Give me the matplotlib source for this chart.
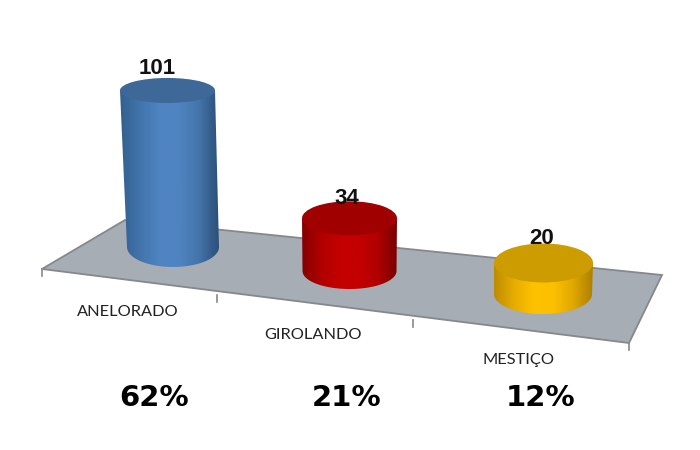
import matplotlib
matplotlib.use("Agg")
import matplotlib.pyplot as plt
import numpy as np
from matplotlib.colors import LinearSegmentedColormap
from matplotlib.patches import Polygon, PathPatch, Ellipse
from matplotlib.path import Path

categories = ["ANELORADO", "GIROLANDO", "MESTIÇO"]
values = [101, 34, 20]
percents = ["62%", "21%", "12%"]

# layout is in image pixels, the cylinder height comes from the value
px_per_unit = 1.55
base_x = [173, 349.5, 543]
base_y = [247, 271, 294]
top_x = [167.5, 349.5, 543.5]
half_w_base = [46, 47, 49]
half_w_top = [47.5, 47.5, 49.5]
half_h_base = [20, 18, 20]
half_h_top = [12.5, 17, 19.5]
side_colors = [["#32608f", "#4274ac", "#4f84c2", "#4f84c2", "#4474aa", "#2c4f78"],
               ["#860000", "#b00000", "#c40000", "#c40000", "#b00000", "#7a0000"],
               ["#bd8c00", "#e6ac00", "#ffc200", "#fdc000", "#e0a800", "#ad8000"]]
top_colors = ["#3d6898", "#a00000", "#cc9c00"]
label_x = [128, 313, 518]
label_y = [312, 335, 360]
percent_x = [154, 347, 541]
value_x = [157, 347, 542]
value_y = [68, 198, 238]
floor = [(42, 269), (125, 220), (662, 275), (629, 343)]
floor_ticks = [(42, 269), (217, 295), (413, 320), (629, 343)]

fig = plt.figure(figsize=(7, 4.5), dpi=100)
ax = fig.add_axes([0, 0, 1, 1])

ax.add_patch(Polygon(floor, closed=True, facecolor="#a6adb5", edgecolor="#85888c", linewidth=1.3, zorder=1))
for tx, ty in floor_ticks:
    ax.plot([tx, tx], [ty, ty + 7], color="#85888c", linewidth=1.2, zorder=1)

t = np.linspace(0, np.pi, 60)
for i, v in enumerate(values):
    top_y = base_y[i] - v * px_per_unit
    # side wall: left edge down, bottom arc, right edge up, the cap covers the rest
    arc_x = base_x[i] - half_w_base[i] * np.cos(t)
    arc_y = base_y[i] + half_h_base[i] * np.sin(t)
    xs = np.r_[top_x[i] - half_w_top[i], arc_x, top_x[i] + half_w_top[i]]
    ys = np.r_[top_y, arc_y, top_y]
    verts = np.c_[xs, ys]
    patch = PathPatch(Path(np.vstack([verts, verts[0]])), facecolor="none", edgecolor="none", zorder=2)
    ax.add_patch(patch)
    cmap = LinearSegmentedColormap.from_list("side", side_colors[i])
    im = ax.imshow(np.linspace(0, 1, 256).reshape(1, -1), cmap=cmap, aspect="auto",
                   extent=[xs.min(), xs.max(), ys.max(), top_y], zorder=2)
    im.set_clip_path(patch)
    ax.add_patch(Ellipse((top_x[i], top_y), 2 * half_w_top[i], 2 * half_h_top[i],
                         facecolor=top_colors[i], edgecolor="none", zorder=3))
    ax.text(value_x[i], value_y[i], str(v), ha="center", va="center", fontsize=16,
            fontweight="bold", family="Liberation Sans", color="#111111", zorder=4)
    ax.text(label_x[i], label_y[i], categories[i], ha="center", va="center", fontsize=11.8,
            family="Lato", color="#222222")
    ax.text(percent_x[i], 398, percents[i], ha="center", va="center", fontsize=21,
            fontweight="bold", family="DejaVu Sans", color="black")

ax.set_xlim(0, 700)
ax.set_ylim(450, 0)
ax.axis("off")
fig.savefig("out.png", dpi=100, facecolor="white")
